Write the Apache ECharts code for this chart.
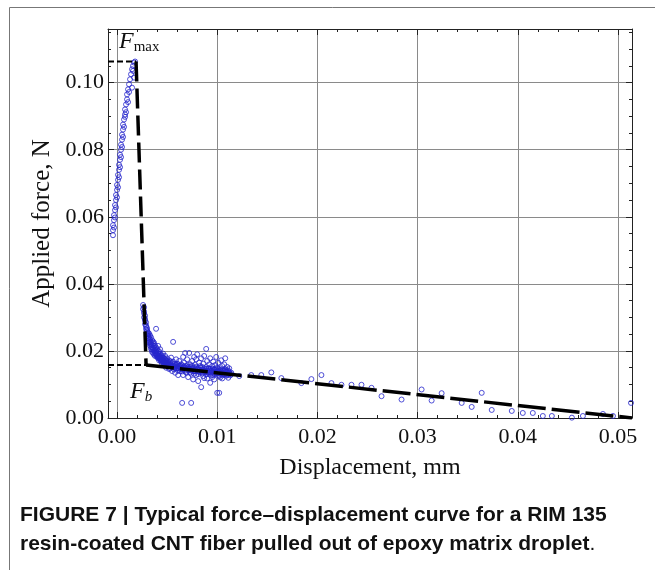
<!doctype html>
<html lang="en">
  <head>
    <meta charset="UTF-8" />
    <title>Force-displacement curve</title>
    <style>
      html, body { margin: 0; padding: 0; background: #fff; }
      #chart { width: 655px; height: 570px; }
    </style>
  </head>
  <body>
    <div id="chart"></div>

    <script src="https://cdn.jsdelivr.net/npm/echarts@6.0.0/dist/echarts.min.js"></script>
    <script>
      // tick labels
      const xTicks = [0, 0.01, 0.02, 0.03, 0.04, 0.05]
      const yTicks = [0, 0.02, 0.04, 0.06, 0.08, 0.1]

      // measured points: loading branch, after debond (scattered + dense core), frictional tail
      const risePoints = [
        [-0.0004, 0.0545], [-0.0004, 0.056], [-0.0004, 0.0575], [-0.0003, 0.059], [-0.0003, 0.0605],
        [-0.0002, 0.062], [-0.0002, 0.0635], [-0.0001, 0.065], [-0.0001, 0.0665], [0.0, 0.068],
        [0.0, 0.0695], [0.0001, 0.071], [0.0001, 0.0725], [0.0002, 0.074], [0.0002, 0.0755],
        [0.0003, 0.077], [0.0003, 0.0785], [0.0004, 0.08], [0.0004, 0.0815], [0.0005, 0.083],
        [0.0005, 0.0845], [0.0006, 0.086], [0.0006, 0.0875], [0.0007, 0.089], [0.0008, 0.0905],
        [0.0008, 0.092], [0.0009, 0.0935], [0.001, 0.095], [0.001, 0.0965], [0.0011, 0.098],
        [0.0012, 0.0995], [0.0013, 0.101], [0.0014, 0.1025], [0.0015, 0.104], [0.0016, 0.105],
        [0.0017, 0.106], [0.0018, 0.1063], [0.0016, 0.1035], [0.0017, 0.1015], [0.0015, 0.0985],
        [-0.0003, 0.0568], [-0.0002, 0.0598], [-0.0001, 0.0628], [0.0, 0.0658], [0.0001, 0.0688],
        [0.0002, 0.0718], [0.0003, 0.0748], [0.0004, 0.0778], [0.0005, 0.0808], [0.0006, 0.0838],
        [0.0007, 0.0868], [0.0008, 0.0898], [0.0009, 0.0912], [0.0011, 0.0942], [0.0012, 0.0972]
      ]
      const decayPoints = [
        [0.0026, 0.0337], [0.0026, 0.0325], [0.0027, 0.0312], [0.0027, 0.03], [0.0028, 0.029],
        [0.0028, 0.028], [0.0029, 0.0272], [0.0029, 0.0265], [0.003, 0.0258], [0.003, 0.025],
        [0.0031, 0.0245], [0.0031, 0.0238], [0.0032, 0.0232], [0.0032, 0.0226], [0.0033, 0.0222],
        [0.0033, 0.0216], [0.0034, 0.0212], [0.0034, 0.0206], [0.0035, 0.0203], [0.0035, 0.0197],
        [0.0036, 0.0228], [0.0036, 0.0194], [0.0037, 0.0215], [0.0037, 0.0189], [0.0038, 0.0208],
        [0.0038, 0.0185], [0.0039, 0.0266], [0.0039, 0.02], [0.004, 0.0182], [0.004, 0.0195],
        [0.0041, 0.0215], [0.0041, 0.0178], [0.0042, 0.019], [0.0042, 0.0172], [0.0043, 0.0205],
        [0.0043, 0.0183], [0.0044, 0.0168], [0.0045, 0.018], [0.0045, 0.0162], [0.0046, 0.0192],
        [0.0046, 0.0174], [0.0047, 0.0157], [0.0048, 0.017], [0.0048, 0.0185], [0.0049, 0.015],
        [0.005, 0.0165], [0.005, 0.0178], [0.0051, 0.0158], [0.0052, 0.0172], [0.0052, 0.0146],
        [0.0053, 0.0163], [0.0054, 0.0155], [0.0054, 0.018], [0.0055, 0.014], [0.0056, 0.0227],
        [0.0056, 0.0168], [0.0057, 0.0152], [0.0058, 0.016], [0.0058, 0.0135], [0.0059, 0.0175],
        [0.006, 0.0148], [0.006, 0.0162], [0.0061, 0.0128], [0.0062, 0.017], [0.0062, 0.0155],
        [0.0063, 0.014], [0.0064, 0.016], [0.0065, 0.0045], [0.0065, 0.0148], [0.0066, 0.0182],
        [0.0066, 0.0128], [0.0067, 0.0165], [0.0068, 0.015], [0.0068, 0.0194], [0.0069, 0.0138],
        [0.007, 0.0158], [0.007, 0.0175], [0.0071, 0.0122], [0.0072, 0.0145], [0.0072, 0.0194],
        [0.0073, 0.016], [0.0074, 0.0045], [0.0074, 0.0132], [0.0075, 0.017], [0.0075, 0.015],
        [0.0076, 0.0115], [0.0077, 0.0182], [0.0077, 0.014], [0.0078, 0.0158], [0.0079, 0.0128],
        [0.0079, 0.0175], [0.008, 0.0148], [0.008, 0.019], [0.0081, 0.011], [0.0082, 0.0165],
        [0.0082, 0.0138], [0.0083, 0.0155], [0.0084, 0.0092], [0.0084, 0.0178], [0.0085, 0.0145],
        [0.0086, 0.0125], [0.0086, 0.0162], [0.0087, 0.0185], [0.0088, 0.014], [0.0089, 0.0206],
        [0.0089, 0.0152], [0.009, 0.0118], [0.009, 0.017], [0.0091, 0.0135], [0.0092, 0.016],
        [0.0092, 0.0148], [0.0093, 0.0105], [0.0093, 0.0178], [0.0094, 0.014], [0.0095, 0.0155],
        [0.0095, 0.0128], [0.0096, 0.0168], [0.0097, 0.0145], [0.0097, 0.0115], [0.0098, 0.0158],
        [0.0099, 0.0135], [0.0099, 0.0182], [0.01, 0.0075], [0.01, 0.015], [0.0101, 0.014],
        [0.0101, 0.0165], [0.0102, 0.0075], [0.0102, 0.0125], [0.0103, 0.0148], [0.0104, 0.0172],
        [0.0104, 0.0135], [0.0105, 0.0155], [0.0105, 0.0118], [0.0106, 0.0142], [0.0107, 0.016],
        [0.0107, 0.013], [0.0108, 0.0145], [0.0108, 0.0178], [0.0109, 0.0138], [0.011, 0.0152],
        [0.011, 0.0128], [0.0111, 0.0142], [0.0112, 0.0135], [0.0112, 0.0148]
      ]
      const corePoints = [
        [0.0027, 0.033], [0.0027, 0.0318], [0.0028, 0.0305], [0.0028, 0.0295], [0.0029, 0.0285],
        [0.0029, 0.0276], [0.003, 0.0268], [0.003, 0.0262], [0.0031, 0.0255], [0.0031, 0.025],
        [0.0032, 0.0242], [0.0032, 0.0237], [0.0033, 0.0235], [0.0033, 0.0228], [0.0034, 0.0225],
        [0.0034, 0.0219], [0.0035, 0.0218], [0.0035, 0.0211], [0.0036, 0.021], [0.0036, 0.0205],
        [0.0037, 0.0204], [0.0037, 0.0199], [0.0038, 0.0199], [0.0038, 0.0193], [0.0039, 0.0193],
        [0.0039, 0.0188], [0.004, 0.019], [0.004, 0.0186], [0.0041, 0.0186], [0.0041, 0.0182],
        [0.0042, 0.0183], [0.0042, 0.0179], [0.0043, 0.0178], [0.0043, 0.0175], [0.0044, 0.0176],
        [0.0044, 0.0172], [0.0045, 0.0173], [0.0045, 0.0169], [0.0046, 0.017], [0.0046, 0.0166],
        [0.0047, 0.0168], [0.0047, 0.0164], [0.0048, 0.0166], [0.0048, 0.0162], [0.0049, 0.0164],
        [0.0049, 0.016], [0.005, 0.0162], [0.005, 0.0158], [0.0052, 0.016], [0.0052, 0.0155],
        [0.0054, 0.0158], [0.0054, 0.0153], [0.0056, 0.0156], [0.0056, 0.0151], [0.0058, 0.0155],
        [0.0058, 0.015], [0.006, 0.0153], [0.006, 0.0148], [0.0062, 0.0152], [0.0062, 0.0147],
        [0.0064, 0.0151], [0.0064, 0.0146], [0.0066, 0.015], [0.0066, 0.0145], [0.0068, 0.0149],
        [0.0068, 0.0144], [0.007, 0.0148], [0.007, 0.0143], [0.0072, 0.0147], [0.0072, 0.0142],
        [0.0074, 0.0146], [0.0074, 0.0141], [0.0076, 0.0146], [0.0076, 0.014], [0.0078, 0.0145],
        [0.0078, 0.014], [0.008, 0.0144], [0.008, 0.0139], [0.0082, 0.0144], [0.0082, 0.0138],
        [0.0084, 0.0143], [0.0084, 0.0138], [0.0086, 0.0142], [0.0086, 0.0137], [0.0088, 0.0142],
        [0.0088, 0.0137], [0.009, 0.0141], [0.009, 0.0136], [0.0092, 0.0141], [0.0092, 0.0136],
        [0.0094, 0.014], [0.0094, 0.0135], [0.0096, 0.014], [0.0096, 0.0135], [0.0098, 0.0139],
        [0.0098, 0.0134], [0.01, 0.0139], [0.01, 0.0134], [0.0102, 0.0138], [0.0102, 0.0133],
        [0.0104, 0.0138], [0.0104, 0.0133], [0.0106, 0.0137], [0.0106, 0.0132], [0.0108, 0.0137],
        [0.0108, 0.0132], [0.011, 0.0136], [0.011, 0.0131], [0.0112, 0.0136], [0.0112, 0.0131],
        [0.0114, 0.0135], [0.0114, 0.0131]
      ]
      const bandPoints = [
        [0.0032, 0.0252], [0.0033, 0.0246], [0.0034, 0.024], [0.0035, 0.0232], [0.0036, 0.0222],
        [0.0037, 0.0224], [0.0038, 0.0216], [0.0039, 0.021], [0.004, 0.0205], [0.0041, 0.0198],
        [0.0042, 0.0199], [0.0043, 0.0192], [0.0044, 0.0186], [0.0045, 0.0187], [0.0046, 0.0181],
        [0.0047, 0.0178], [0.0048, 0.0176], [0.0049, 0.0173], [0.005, 0.017], [0.0051, 0.0167],
        [0.0053, 0.0169], [0.0055, 0.0164], [0.0057, 0.0162], [0.0059, 0.0158], [0.0061, 0.016],
        [0.0063, 0.0156], [0.0065, 0.0157], [0.0067, 0.0154], [0.0069, 0.0155], [0.0071, 0.0152],
        [0.0073, 0.0153], [0.0075, 0.0155], [0.0077, 0.0151], [0.0079, 0.0152], [0.0081, 0.0149],
        [0.0083, 0.0150], [0.0085, 0.0152], [0.0087, 0.0148], [0.0089, 0.0146], [0.0091, 0.0148],
        [0.0093, 0.0146], [0.0095, 0.0147], [0.0097, 0.0144], [0.0099, 0.0146], [0.0101, 0.0145],
        [0.0103, 0.0142], [0.0105, 0.0144], [0.0107, 0.0141], [0.0109, 0.0143], [0.0111, 0.0139],
        [0.0053, 0.0148], [0.0057, 0.0145], [0.0061, 0.0141], [0.0065, 0.0139], [0.0069, 0.0135],
        [0.0073, 0.0136], [0.0077, 0.0132], [0.0081, 0.0131], [0.0085, 0.0133], [0.0089, 0.013],
        [0.0093, 0.0129], [0.0097, 0.013], [0.0101, 0.0128], [0.0105, 0.0127], [0.0109, 0.0126],
        [0.0113, 0.0127], [0.0103, 0.0121], [0.0095, 0.0122], [0.0087, 0.0119], [0.0111, 0.012]
      ]
      const tailPoints = [
        [0.0122, 0.0125], [0.0134, 0.0128], [0.0144, 0.0128], [0.0154, 0.0136], [0.0164, 0.0119],
        [0.0184, 0.0104], [0.0194, 0.0116], [0.0204, 0.0128], [0.0214, 0.0104], [0.0224, 0.0099],
        [0.0234, 0.0099], [0.0244, 0.0099], [0.0254, 0.009], [0.0264, 0.0065], [0.0284, 0.0055],
        [0.0304, 0.0085], [0.0314, 0.0052], [0.0324, 0.0074], [0.0344, 0.0045], [0.0354, 0.0033],
        [0.0364, 0.0075], [0.0374, 0.0024], [0.0394, 0.0021], [0.0405, 0.0015], [0.0415, 0.0015],
        [0.0425, 0.0006], [0.0434, 0.0006], [0.0454, 0.0001], [0.0465, 0.0006], [0.0485, 0.0012],
        [0.0495, 0.0006], [0.0513, 0.0045]
      ]

      // fitted dashed lines
      const fmaxLine = [[-0.0009, 0.1063], [0.0019, 0.1063]]
      const dropLine = [[0.0019, 0.1063], [0.0029, 0.0158]]
      const fbLine = [[-0.0009, 0.0158], [0.0029, 0.0158]]
      const tailLine = [[0.0029, 0.0158], [0.0514, 0.0]]

      const xMin = -0.0009
      const xMax = 0.0514
      const yMax = 0.116

      const serif = '"Liberation Serif", "DejaVu Serif", serif'
      const sans = '"Liberation Sans", Arial, sans-serif'
      const blue = '#2424cc'

      const chart = echarts.init(document.getElementById('chart'), null, { renderer: 'canvas' })

      const frameAxis = {
        axisLine: { show: true, onZero: false, lineStyle: { color: '#222', width: 1 } },
        axisTick: { show: true, inside: true, length: 6, lineStyle: { color: '#222' } },
        minorTick: { show: true, length: 3, lineStyle: { color: '#222' } },
        axisLabel: { show: false },
        splitLine: { show: false }
      }

      const scatterStyle = {
        type: 'scatter',
        symbol: 'circle',
        symbolSize: 5,
        itemStyle: { color: 'transparent', borderColor: blue, borderWidth: 1 },
        z: 2
      }

      const option = {
        backgroundColor: '#fff',
        animation: false,
        grid: { left: 108, right: 23, top: 29, bottom: 152 },
        xAxis: [
          {
            type: 'value',
            min: xMin,
            max: xMax,
            splitNumber: 5,
            name: 'Displacement, mm',
            nameLocation: 'middle',
            nameGap: 38,
            nameTextStyle: { fontFamily: serif, fontSize: 24, color: '#111' },
            axisLine: { show: true, onZero: false, lineStyle: { color: '#222', width: 1 } },
            axisTick: { show: true, inside: true, length: 6, lineStyle: { color: '#222' } },
            minorTick: { show: true, splitNumber: 5, length: 3, lineStyle: { color: '#222' } },
            axisLabel: {
              fontFamily: serif, fontSize: 22, color: '#111', margin: 8,
              showMinLabel: false, showMaxLabel: false,
              formatter: v => (xTicks.some(t => Math.abs(t - v) < 1e-9) ? v.toFixed(2) : '')
            },
            splitLine: { show: true, lineStyle: { color: '#8a8a8a', width: 1 } }
          },
          Object.assign({}, frameAxis, {
            type: 'value', position: 'top', min: xMin, max: xMax, splitNumber: 5,
            minorTick: Object.assign({}, frameAxis.minorTick, { splitNumber: 5 })
          })
        ],
        yAxis: [
          {
            type: 'value',
            min: 0,
            max: yMax,
            interval: 0.02,
            name: 'Applied force, N',
            nameLocation: 'middle',
            nameGap: 51,
            nameTextStyle: { fontFamily: serif, fontSize: 25, color: '#111' },
            axisLine: { show: true, onZero: false, lineStyle: { color: '#222', width: 1 } },
            axisTick: { show: true, inside: true, length: 6, lineStyle: { color: '#222' } },
            minorTick: { show: true, splitNumber: 4, length: 3, lineStyle: { color: '#222' } },
            axisLabel: {
              fontFamily: serif, fontSize: 22, color: '#111', margin: 4,
              showMaxLabel: false,
              formatter: v => (yTicks.some(t => Math.abs(t - v) < 1e-9) ? v.toFixed(2) : '')
            },
            splitLine: { show: true, lineStyle: { color: '#8a8a8a', width: 1 } }
          },
          Object.assign({}, frameAxis, {
            type: 'value', position: 'right', min: 0, max: yMax, interval: 0.02,
            minorTick: Object.assign({}, frameAxis.minorTick, { splitNumber: 4 })
          })
        ],
        series: [
          Object.assign({ data: risePoints }, scatterStyle),
          Object.assign({ data: decayPoints }, scatterStyle),
          Object.assign({ data: corePoints }, scatterStyle),
          Object.assign({ data: bandPoints }, scatterStyle),
          Object.assign({ data: tailPoints }, scatterStyle),
          {
            type: 'line', data: fmaxLine, symbol: 'none', z: 3,
            lineStyle: { color: '#000', width: 2, type: [6, 3] }
          },
          {
            type: 'line', data: fbLine, symbol: 'none', z: 3,
            lineStyle: { color: '#000', width: 2, type: [6, 3] }
          },
          {
            type: 'line', data: dropLine, symbol: 'none', z: 3,
            lineStyle: { color: '#000', width: 3.5, type: [20, 7] }
          },
          {
            type: 'line', data: tailLine, symbol: 'none', z: 3,
            lineStyle: { color: '#000', width: 3.5, type: [28, 6] }
          }
        ],
        graphic: [
          { type: 'line', shape: { x1: 9.5, y1: 7.5, x2: 9.5, y2: 570 }, style: { stroke: '#777', lineWidth: 1 } },
          { type: 'line', shape: { x1: 9.5, y1: 7.5, x2: 655, y2: 7.5 }, style: { stroke: '#777', lineWidth: 1 } },
          {
            type: 'text', left: 119, top: 30, z: 10,
            style: {
              text: '{f|F}{s|max}',
              rich: {
                f: { fontFamily: serif, fontStyle: 'italic', fontSize: 24, fill: '#111' },
                s: { fontFamily: serif, fontSize: 15, fill: '#111', padding: [10, 0, 0, 0] }
              }
            }
          },
          {
            type: 'text', left: 130, top: 380, z: 10,
            style: {
              text: '{f|F}{s|b}',
              rich: {
                f: { fontFamily: serif, fontStyle: 'italic', fontSize: 24, fill: '#111' },
                s: { fontFamily: serif, fontStyle: 'italic', fontSize: 15, fill: '#111', padding: [10, 0, 0, 0] }
              }
            }
          },
          {
            type: 'text', left: 20, top: 505,
            style: {
              text: 'FIGURE 7 | Typical force\u2013displacement curve for a RIM 135',
              fontFamily: sans, fontWeight: 'bold', fontSize: 21, fill: '#111'
            }
          },
          {
            type: 'text', left: 20, top: 534,
            style: {
              text: '{b|resin-coated CNT fiber pulled out of epoxy matrix droplet}{n|.}',
              rich: {
                b: { fontFamily: sans, fontWeight: 'bold', fontSize: 21, fill: '#111' },
                n: { fontFamily: sans, fontSize: 21, fill: '#111' }
              }
            }
          }
        ]
      }

      chart.setOption(option)
    </script>
  </body>
</html>
